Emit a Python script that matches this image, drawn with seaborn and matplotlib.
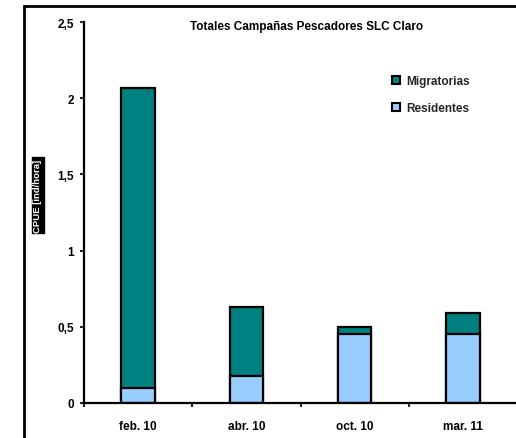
import matplotlib
matplotlib.use("Agg")
import matplotlib.pyplot as plt
import seaborn as sns
import pandas as pd
from matplotlib.patches import Patch, Rectangle
from matplotlib.ticker import FuncFormatter, FixedLocator

categories = ["feb. 10", "abr. 10", "oct. 10", "mar. 11"]
residentes = [0.10, 0.18, 0.45, 0.45]
migratorias = [1.97, 0.45, 0.05, 0.14]
title = "Totales Campañas Pescadores SLC Claro"
ylabel = "CPUE [ind/hora]"
yticks = [0, 0.5, 1, 1.5, 2, 2.5]

sns.set_theme(style="white")
plt.rcParams["font.family"] = ["Liberation Sans", "DejaVu Sans"]
plt.rcParams["font.weight"] = "bold"

df = pd.DataFrame({
    "cat": categories,
    "res": residentes,
    "total": [r + m for r, m in zip(residentes, migratorias)],
})

fig = plt.figure(figsize=(5.16, 4.39), dpi=100)
ax = fig.add_axes([84 / 516, 35 / 439, 433 / 516, 381 / 439])

teal = "#008080"
light = "#99CCFF"
sns.barplot(data=df, x="cat", y="total", color=teal, saturation=1, width=0.31,
            edgecolor="black", linewidth=1.6, ax=ax)
sns.barplot(data=df, x="cat", y="res", color=light, saturation=1, width=0.31,
            edgecolor="black", linewidth=1.6, ax=ax)

ax.set_xlim(-0.5, 3.5)
ax.set_ylim(0, 2.5)
ax.set_xlabel("")
ax.set_ylabel("")
ax.set_yticks(yticks)
ax.yaxis.set_major_formatter(FuncFormatter(lambda v, p: (f"{v:g}").replace(".", ",")))
ax.xaxis.set_minor_locator(FixedLocator([-0.5, 0.5, 1.5, 2.5, 3.5]))
ax.tick_params(axis="x", which="major", length=0, pad=12, labelsize=8.5)
ax.tick_params(axis="x", which="minor", length=3, width=1.5, direction="out", bottom=True)
ax.tick_params(axis="y", length=3, width=1.5, direction="out", left=True, pad=4, labelsize=8.5)
for lab in ax.get_xticklabels() + ax.get_yticklabels():
    lab.set_fontweight("bold")
    lab.set_color("black")

for s in ["top", "right"]:
    ax.spines[s].set_visible(False)
for s in ["left", "bottom"]:
    ax.spines[s].set_color("black")
    ax.spines[s].set_linewidth(1.6)
ax.set_facecolor("white")

fig.text(307 / 516, 1 - 27 / 439, title, ha="center", va="center",
         fontsize=8.5, fontweight="bold", color="black")

handles = [Patch(facecolor=teal, edgecolor="black", linewidth=1.5, label="Migratorias"),
           Patch(facecolor=light, edgecolor="black", linewidth=1.5, label="Residentes")]
leg = ax.legend(handles=handles, loc="upper left", bbox_to_anchor=(392 / 516, 1 - 76 / 439),
                bbox_transform=fig.transFigure, frameon=False, fontsize=8.5,
                handlelength=0.7, handleheight=0.7, handletextpad=0.5, labelspacing=1.3,
                borderpad=0, borderaxespad=0)
for t in leg.get_texts():
    t.set_fontweight("bold")

fig.text(38 / 516, 1 - 196 / 439, ylabel, rotation=90, ha="center", va="center",
         fontsize=6.8, fontweight="bold", color="white",
         bbox=dict(boxstyle="square,pad=0.2", facecolor="black", edgecolor="black"))

fig.patches.append(Rectangle((24 / 516, -0.1), 1.2, 1.1 - 7 / 439,
                             transform=fig.transFigure, fill=False,
                             edgecolor="black", linewidth=2.0, zorder=10))

fig.savefig("out.png", dpi=100, facecolor="white")
